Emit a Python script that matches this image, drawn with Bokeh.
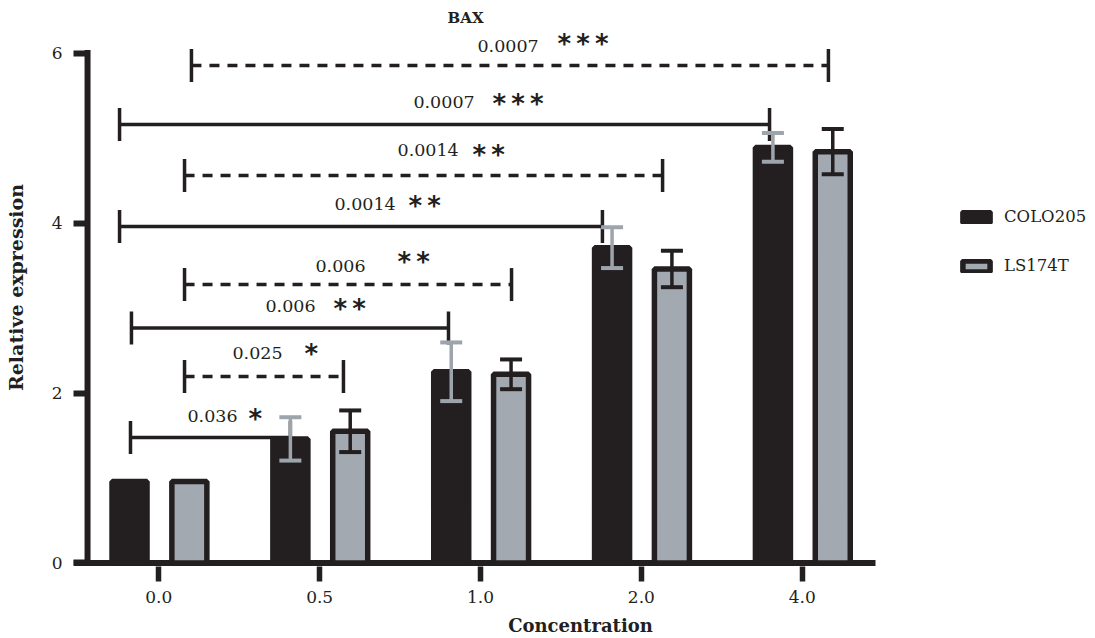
from bokeh.plotting import figure
from bokeh.models import (Range1d, FixedTicker, ColumnDataSource, Whisker, TeeHead,
                          Legend, LegendItem)
from bokeh.core.properties import value
from bokeh.embed import file_html
from bokeh.resources import INLINE

# ---------------- data ----------------
concentrations = ["0.0", "0.5", "1.0", "2.0", "4.0"]
colo205_mean = [0.96, 1.46, 2.25, 3.71, 4.89]
colo205_err = [0.0, 0.255, 0.345, 0.24, 0.17]
ls174t_mean = [0.96, 1.55, 2.22, 3.46, 4.84]
ls174t_err = [0.0, 0.245, 0.175, 0.215, 0.265]

p_values = ["0.0007", "0.0007", "0.0014", "0.0014", "0.006", "0.006", "0.025", "0.036"]
stars = ["***", "***", "**", "**", "**", "**", "*", "*"]
compared_line = ["LS174T", "COLO205", "LS174T", "COLO205", "LS174T", "COLO205", "LS174T", "COLO205"]

# ---------------- layout constants ----------------
FONT = "DejaVu Serif"
BLACK = "#231f20"
GRAY = "#a3a9b1"
EGRAY = "#9ea4ac"

# bracket geometry (data coords)
br_y = [5.853, 5.159, 4.559, 3.959, 3.276, 2.765, 2.194, 1.476]
br_x0 = [0.203, -0.244, 0.160, -0.244, 0.160, -0.170, 0.160, -0.176]
br_x1 = [4.163, 3.797, 3.132, 2.758, 2.193, 1.801, 1.148, 0.818]
lab_x = [1.981, 1.583, 1.484, 1.092, 0.974, 0.663, 0.458, 0.178]
lab_y = [6.088, 5.429, 4.865, 4.218, 3.500, 3.029, 2.465, 1.735]
star_x = [2.478, 2.074, 1.950, 1.552, 1.484, 1.086, 0.906, 0.558]
star_y = [6.145, 5.441, 4.841, 4.241, 3.571, 3.018, 2.500, 1.735]
TICK_H = 0.194

x_start = (73 - 158.3) / 160.85
x_end = x_start + 1014 / 160.85

p = figure(frame_width=1014, frame_height=558,
           min_border_left=73, min_border_right=5, min_border_top=8, min_border_bottom=72,
           x_range=Range1d(x_start, x_end), y_range=Range1d(-0.0412, 6.524),
           output_backend="svg", toolbar_location=None, tools="")
p.xgrid.grid_line_color = None
p.ygrid.grid_line_color = None
p.outline_line_color = None
p.background_fill_color = "white"

# ---------------- axes ----------------
p.xaxis.ticker = FixedTicker(ticks=list(range(len(concentrations))))
p.xaxis.major_label_overrides = {i: c for i, c in enumerate(concentrations)}
p.xaxis.axis_line_color = None
p.xaxis.major_tick_in = 0
p.xaxis.major_tick_out = 15
p.xaxis.major_tick_line_width = 5.5
p.xaxis.major_tick_line_color = BLACK
p.xaxis.minor_tick_line_color = None
p.xaxis.major_label_standoff = 9
p.xaxis.major_label_text_font = FONT
p.xaxis.major_label_text_font_size = "17px"
p.xaxis.major_label_text_color = BLACK
p.xaxis.axis_label = "Concentration"
p.xaxis.axis_label_text_font = FONT
p.xaxis.axis_label_text_font_style = "bold"
p.xaxis.axis_label_text_font_size = "18px"
p.xaxis.axis_label_text_color = BLACK
p.xaxis.axis_label_standoff = 9

p.yaxis.ticker = FixedTicker(ticks=[0, 2, 4, 6])
p.yaxis.axis_line_color = None
p.yaxis.major_tick_in = 15
p.yaxis.major_tick_out = 0
p.yaxis.major_tick_line_width = 6
p.yaxis.major_tick_line_color = BLACK
p.yaxis.minor_tick_line_color = None
p.yaxis.major_label_standoff = 11
p.yaxis.major_label_text_font = FONT
p.yaxis.major_label_text_font_size = "17px"
p.yaxis.major_label_text_color = BLACK
p.yaxis.axis_label = "Relative expression"
p.yaxis.axis_label_text_font = FONT
p.yaxis.axis_label_text_font_style = "bold"
p.yaxis.axis_label_text_font_size = "19px"
p.yaxis.axis_label_text_color = BLACK
p.yaxis.axis_label_standoff = 22

# axis lines drawn as glyphs (offset style)
p.segment(x0=[x_start], y0=[0], x1=[(875 - 158.3) / 160.85], y1=[0],
          line_width=6, line_color=BLACK)
p.segment(x0=[-0.443], y0=[-0.035], x1=[-0.443], y1=[6.035],
          line_width=6, line_color=BLACK)

# ---------------- significance brackets ----------------
solid_idx = [i for i, s in enumerate(compared_line) if s == "COLO205"]
dash_idx = [i for i, s in enumerate(compared_line) if s == "LS174T"]
for idx, dash in ((solid_idx, "solid"), (dash_idx, "10 8")):
    p.segment(x0=[br_x0[i] for i in idx], y0=[br_y[i] for i in idx],
              x1=[br_x1[i] for i in idx], y1=[br_y[i] for i in idx],
              line_width=3.5, line_color=BLACK, line_dash=dash)
ends_x = br_x0 + br_x1
ends_y = br_y + br_y
p.segment(x0=ends_x, y0=[y - TICK_H for y in ends_y], x1=ends_x, y1=[y + TICK_H for y in ends_y],
          line_width=3.5, line_color=BLACK)

p.text(x=lab_x, y=lab_y, text=p_values, text_font=value(FONT), text_font_size="17.5px",
       text_align="left", text_baseline="middle", text_color=BLACK)
p.text(x=star_x, y=star_y, text=["\u2009".join(s) for s in stars], text_font=value("DejaVu Sans"),
       text_font_size="26px", text_font_style="bold", text_align="left",
       text_baseline="middle", text_color=BLACK, y_offset=3)

p.text(x=[1.907], y=[6.418], text=["BAX"], text_font=value(FONT), text_font_size="15px",
       text_font_style="bold", text_align="center", text_baseline="middle", text_color=BLACK)

# ---------------- bars ----------------
BAR_W = 35 / 160.85
xc = [i - 0.182 for i in range(len(concentrations))]
xl = [i + 0.19 for i in range(len(concentrations))]
r_colo = p.vbar(x=xc, top=colo205_mean, width=BAR_W, bottom=0,
                fill_color=BLACK, line_color=BLACK, line_width=5.5)
r_ls = p.vbar(x=xl, top=ls174t_mean, width=BAR_W, bottom=0,
              fill_color=GRAY, line_color=BLACK, line_width=5.5)

# error bars
def whisker(xs, means, errs, color):
    keep = [i for i, e in enumerate(errs) if e > 0]
    src = ColumnDataSource(dict(
        x=[xs[i] for i in keep],
        upper=[means[i] + errs[i] for i in keep],
        lower=[means[i] - errs[i] for i in keep]))
    w = Whisker(source=src, base="x", upper="upper", lower="lower",
                line_color=color, line_width=3.5, level="annotation",
                upper_head=TeeHead(size=22, line_color=color, line_width=4),
                lower_head=TeeHead(size=22, line_color=color, line_width=4))
    p.add_layout(w)

whisker(xc, colo205_mean, colo205_err, EGRAY)
whisker(xl, ls174t_mean, ls174t_err, BLACK)

# ---------------- legend ----------------
legend = Legend(items=[LegendItem(label="COLO205", renderers=[r_colo]),
                       LegendItem(label="LS174T", renderers=[r_ls])],
                location=(886, 291), orientation="vertical",
                glyph_width=34, glyph_height=14, label_height=14, spacing=30,
                padding=0, margin=0, label_standoff=11,
                label_text_font=FONT, label_text_font_size="16.5px",
                label_text_color=BLACK, label_text_baseline="middle",
                background_fill_alpha=0, border_line_color=None)
p.add_layout(legend)

open("out.html", "w").write(file_html(p, INLINE))
